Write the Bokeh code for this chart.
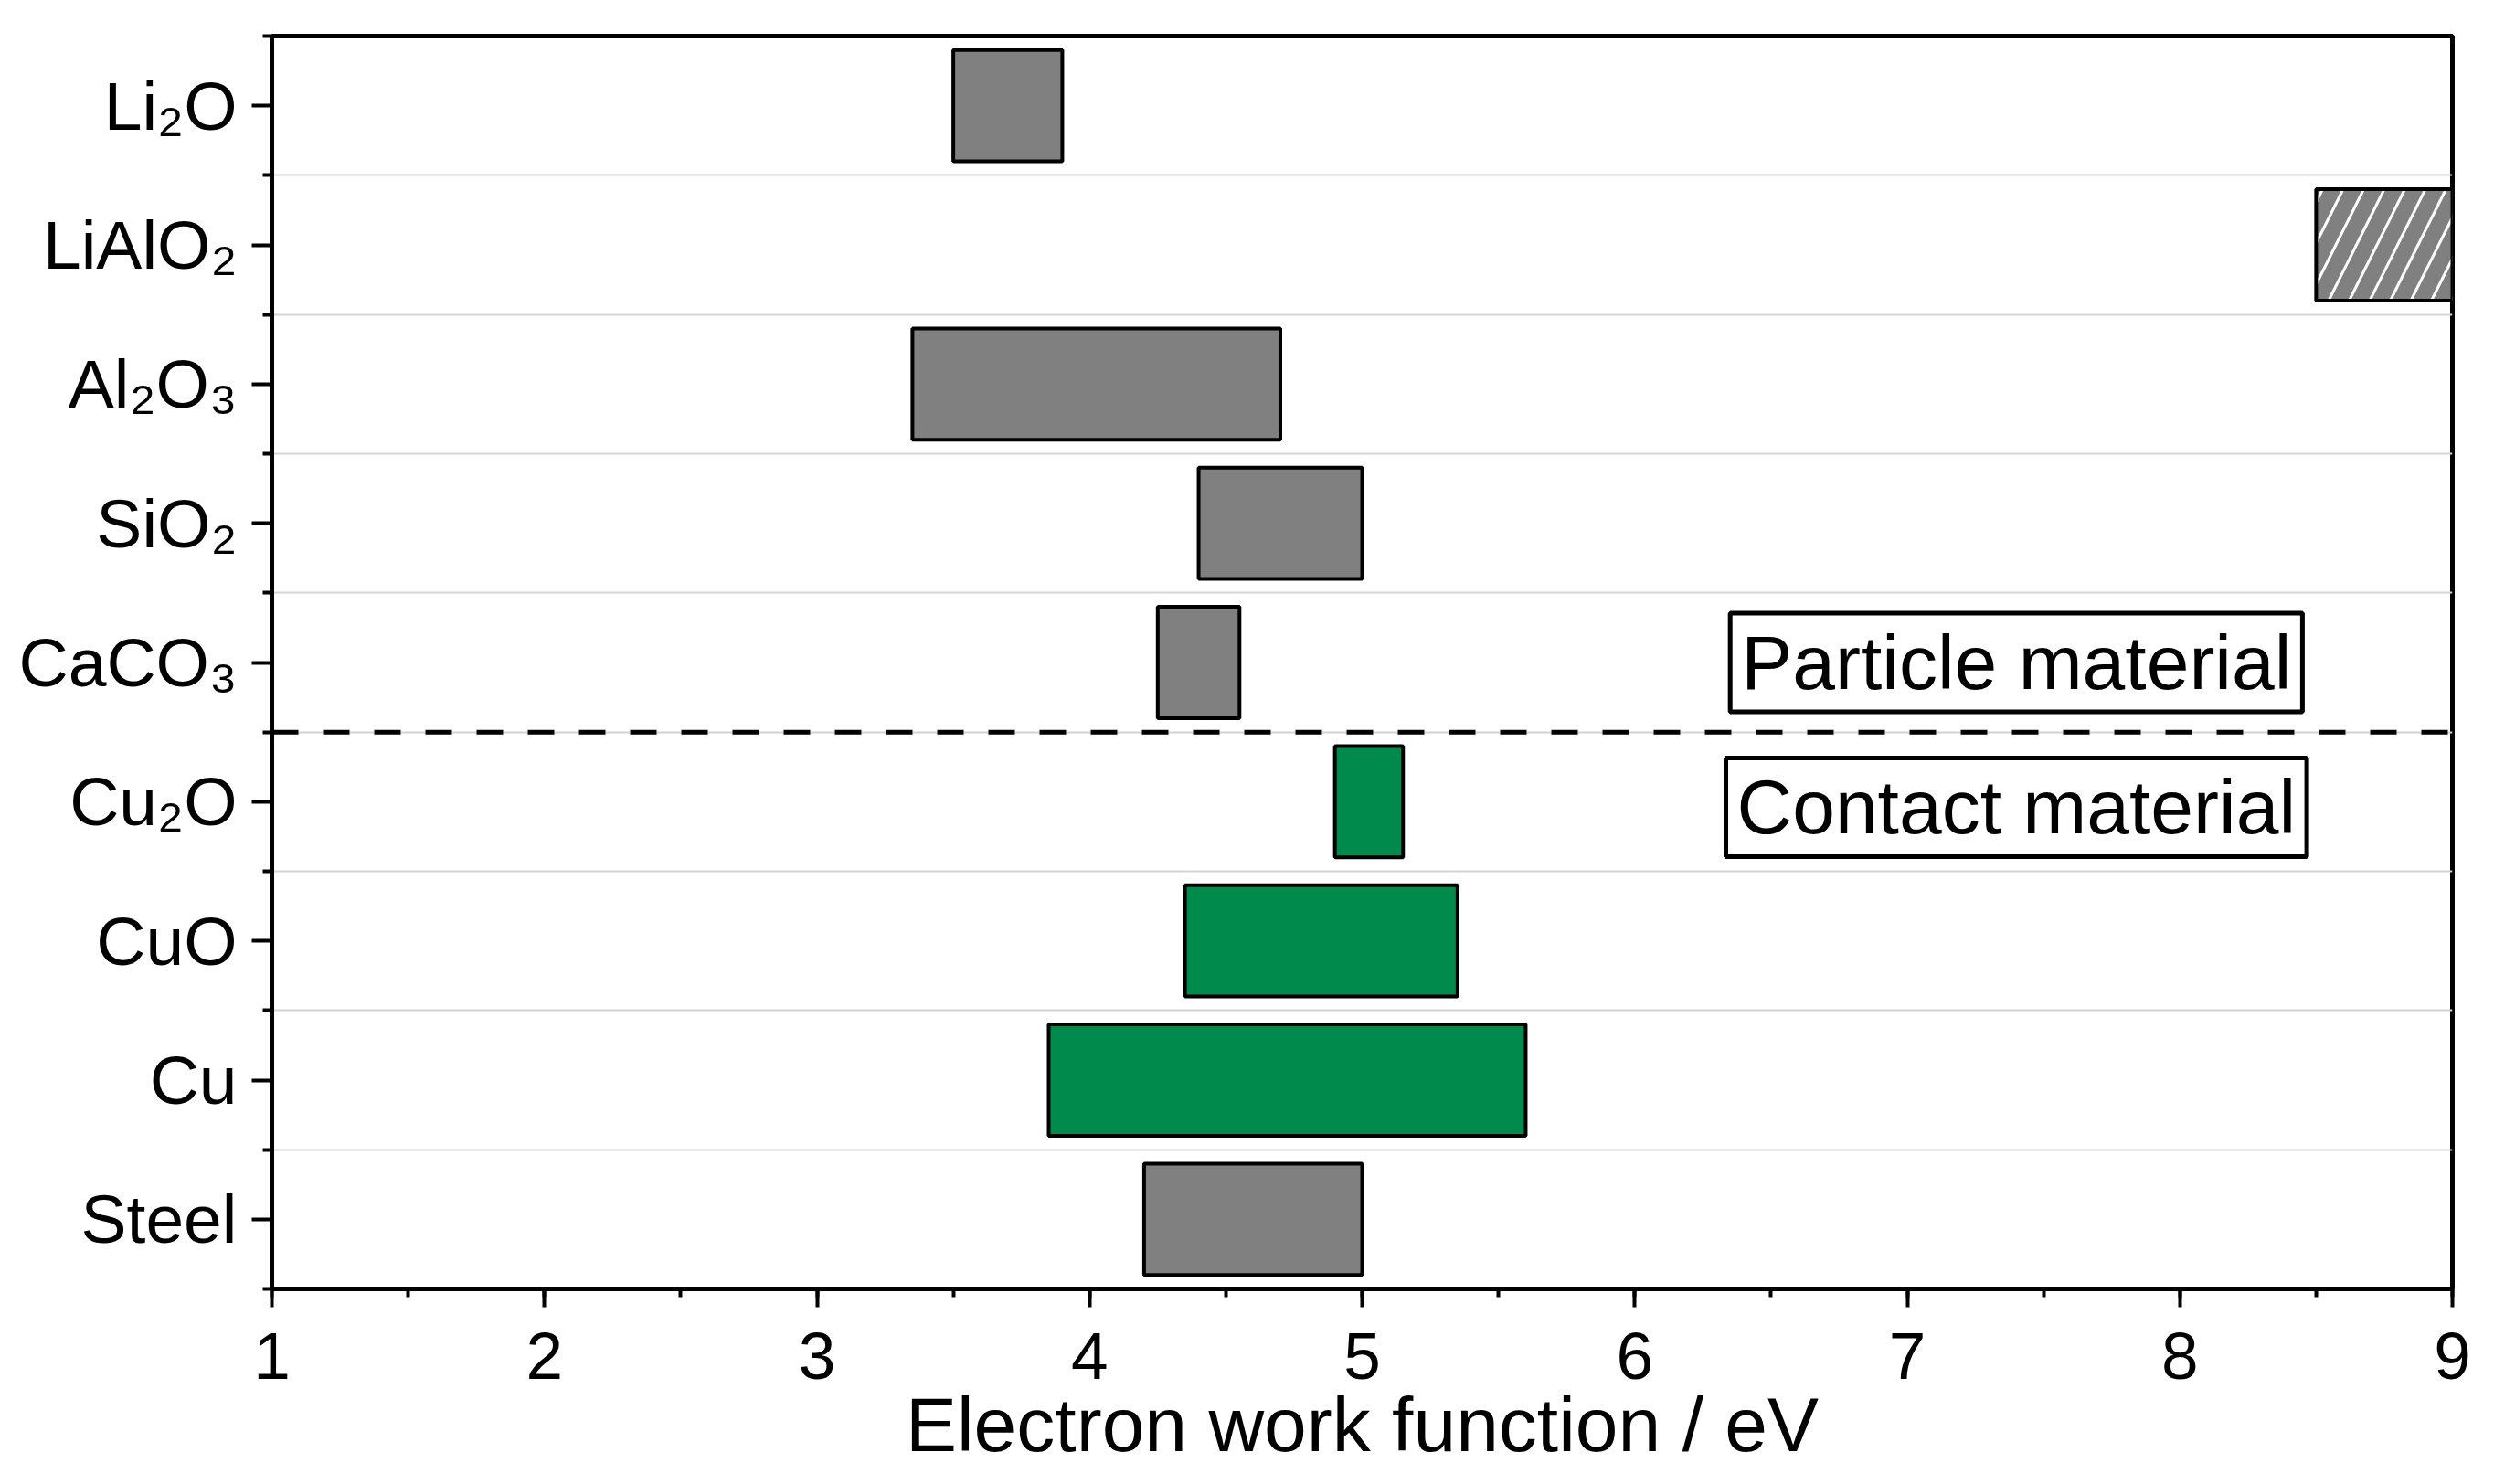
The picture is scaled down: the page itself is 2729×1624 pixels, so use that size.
from bokeh.plotting import figure
from bokeh.models import Range1d, FixedTicker, SingleIntervalTicker, Span, Label, ColumnDataSource
from bokeh.embed import file_html
from bokeh.resources import INLINE

# ---- data ----
materials = ["Li₂O", "LiAlO₂", "Al₂O₃", "SiO₂", "CaCO₃", "Cu₂O", "CuO", "Cu", "Steel"]
wf_low = [3.5, 8.5, 3.35, 4.4, 4.25, 4.9, 4.35, 3.85, 4.2]
wf_high = [3.9, 9.0, 4.7, 5.0, 4.55, 5.15, 5.35, 5.6, 5.0]
kind = ["particle", "particle", "particle", "particle", "particle",
        "contact", "contact", "contact", "steel"]
hatched_items = ["LiAlO₂"]

GRAY = "#808080"
GREEN = "#008a4b"
FONT = "Liberation Sans"
color_map = {"particle": GRAY, "contact": GREEN, "steel": GRAY}

pos = list(range(len(materials)))
src = ColumnDataSource(dict(
    y=pos, left=wf_low, right=wf_high,
    color=[color_map[k] for k in kind],
    hatch=["/" if m in hatched_items else " " for m in materials],
))

p = figure(width=2729, height=1624, output_backend="svg", toolbar_location=None,
           x_range=Range1d(1, 9), y_range=Range1d(len(materials) - 0.5, -0.5),
           min_border_left=297, min_border_right=46, min_border_top=39, min_border_bottom=214)

p.background_fill_color = "white"
p.outline_line_color = "black"
p.outline_line_width = 5

# bars
p.hbar(y="y", left="left", right="right", height=0.8, source=src,
       fill_color="color", line_color="black", line_width=4,
       hatch_pattern="hatch", hatch_color="white", hatch_weight=3, hatch_scale=45)

# separator
p.add_layout(Span(location=4.5, dimension="width", line_color="black",
                  line_width=5, line_dash="29 27"))

# annotations
for txt, yv in [("Particle material", 4.0), ("Contact material", 5.04)]:
    p.add_layout(Label(x=7.40, y=yv, text=txt, text_align="center", text_baseline="middle",
                       text_font=FONT, text_font_size="84px", text_color="black",
                       border_line_color="black", border_line_width=5,
                       background_fill_color="white",
                       padding=dict(left=12, right=12, top=7, bottom=7)))

# x axis
xa = p.xaxis[0]
xa.ticker = SingleIntervalTicker(interval=1, num_minor_ticks=2)
xa.axis_label = "Electron work function / eV"
xa.axis_label_text_font = FONT
xa.axis_label_text_font_size = "84px"
xa.axis_label_text_font_style = "normal"
xa.axis_label_text_color = "black"
xa.axis_label_standoff = 0
xa.major_label_text_font = FONT
xa.major_label_text_font_size = "73px"
xa.major_label_text_color = "black"
xa.major_label_standoff = 28
xa.axis_line_width = 5
xa.major_tick_line_width = 4
xa.minor_tick_line_width = 4
xa.major_tick_out = 20
xa.major_tick_in = 0
xa.minor_tick_out = 9
xa.minor_tick_in = 0

# y axis
ya = p.yaxis[0]
ya.ticker = FixedTicker(ticks=pos, minor_ticks=[i - 0.5 for i in range(len(materials) + 1)])
ya.major_label_overrides = {i: m for i, m in enumerate(materials)}
ya.major_label_text_font = FONT
ya.major_label_text_font_size = "75px"
ya.major_label_text_color = "black"
ya.major_label_standoff = 16
ya.axis_line_width = 5
ya.major_tick_line_width = 4
ya.minor_tick_line_width = 4
ya.major_tick_out = 22
ya.major_tick_in = 0
ya.minor_tick_out = 10
ya.minor_tick_in = 0

# grid
p.xgrid.visible = False
p.ygrid.ticker = FixedTicker(ticks=[i + 0.5 for i in range(len(materials) - 1)])
p.ygrid.grid_line_color = "#d4d4d4"
p.ygrid.grid_line_width = 2

open("out.html", "w").write(file_html(p, INLINE))
